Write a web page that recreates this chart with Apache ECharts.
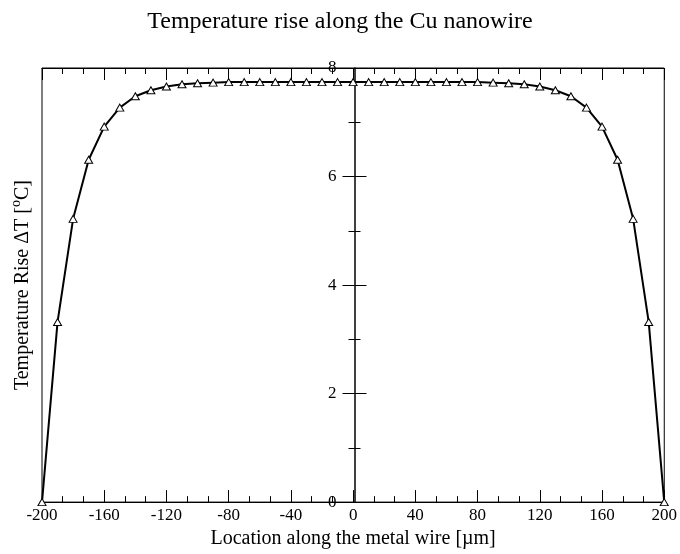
<!DOCTYPE html>
<html>
<head>
<meta charset="utf-8">
<script src="https://cdn.jsdelivr.net/npm/echarts@6/dist/echarts.min.js"></script>
<style>html,body{margin:0;padding:0;background:#fff;}#c{width:680px;height:554px;}</style>
</head>
<body>
<div id="c"></div>
<script>
const titleText = 'Temperature rise along the Cu nanowire';
const xName = 'Location along the metal wire [\u00b5m]';
const positions = [-200,-190,-180,-170,-160,-150,-140,-130,-120,-110,-100,-90,-80,-70,-60,-50,-40,-30,-20,-10,0,
  10,20,30,40,50,60,70,80,90,100,110,120,130,140,150,160,170,180,190,200];
const tempRise = [0,3.32,5.22,6.31,6.92,7.27,7.48,7.59,7.66,7.70,7.72,7.73,7.74,7.74,7.74,7.74,7.74,7.74,7.74,7.74,7.74,
  7.74,7.74,7.74,7.74,7.74,7.74,7.74,7.74,7.73,7.72,7.70,7.66,7.59,7.48,7.27,6.92,6.31,5.22,3.32,0];

const FONT = '"Liberation Serif", "DejaVu Serif", serif';
const data = positions.map((x, i) => [x, tempRise[i]]);

const GRID_LEFT = 42, GRID_RIGHT = 13, CHART_W = 680;
const plotW = CHART_W - GRID_LEFT - GRID_RIGHT;
const centerOffset = -plotW / 2; // places a left y axis at x = 0

const chart = echarts.init(document.getElementById('c'), null, {renderer: 'canvas'});
const xBase = {
  type: 'value', min: -200, max: 200, interval: 40,
  axisLine: {onZero: false, lineStyle: {color: '#000', width: 1}},
  axisTick: {inside: true, length: 12, lineStyle: {color: '#000', width: 1}},
  minorTick: {show: true, splitNumber: 3, length: 6, lineStyle: {color: '#000', width: 1}},
  splitLine: {show: false}, minorSplitLine: {show: false}
};
const yBase = {
  type: 'value', min: 0, max: 8, interval: 2,
  splitLine: {show: false}, minorSplitLine: {show: false}
};
chart.setOption({
  animation: false,
  backgroundColor: '#fff',
  title: {
    text: titleText, left: 'center', top: 5,
    textStyle: {fontFamily: FONT, fontSize: 24, fontWeight: 'normal', color: '#000'}
  },
  grid: {left: GRID_LEFT, right: GRID_RIGHT, top: 68, bottom: 48, show: true, borderColor: '#000', borderWidth: 1, backgroundColor: 'transparent'},
  xAxis: [
    Object.assign({}, xBase, {
      position: 'bottom',
      axisLabel: {margin: 5, fontFamily: FONT, fontSize: 17, color: '#000'},
      name: xName, nameLocation: 'middle', nameGap: 22,
      nameTextStyle: {fontFamily: FONT, fontSize: 20, color: '#000'}
    }),
    Object.assign({}, xBase, {position: 'top', axisLabel: {show: false}})
  ],
  yAxis: [
    Object.assign({}, yBase, {
      position: 'left', offset: centerOffset,
      axisLine: {show: true, onZero: false, lineStyle: {color: '#000', width: 1.5}},
      axisTick: {show: true, inside: false, length: 12, lineStyle: {color: '#000', width: 1}},
      minorTick: {show: true, splitNumber: 2, length: 6, lineStyle: {color: '#000', width: 1}},
      axisLabel: {margin: 18, fontFamily: FONT, fontSize: 17, color: '#000'}
    }),
    Object.assign({}, yBase, {
      position: 'left', offset: centerOffset,
      axisLine: {show: false, onZero: false},
      axisTick: {show: true, inside: true, length: 12, lineStyle: {color: '#000', width: 1}},
      minorTick: {show: true, splitNumber: 2, length: 6, lineStyle: {color: '#000', width: 1}},
      axisLabel: {show: false}
    }),
    Object.assign({}, yBase, {
      position: 'left',
      axisLine: {show: false, onZero: false},
      axisTick: {show: false}, minorTick: {show: false}, axisLabel: {show: false},
      name: '{a|Temperature Rise \u0394T [}{s|o}{a|C]}',
      nameLocation: 'middle', nameRotate: 90, nameGap: 9,
      nameTextStyle: {
        rich: {
          a: {fontFamily: FONT, fontSize: 20, color: '#000', lineHeight: 24, verticalAlign: 'bottom'},
          s: {fontFamily: FONT, fontSize: 14, color: '#000', lineHeight: 24, verticalAlign: 'top', padding: [0, 0, 8, 0]}
        }
      }
    })
  ],
  series: [{
    type: 'line', xAxisIndex: 0, yAxisIndex: 0,
    data: data,
    showAllSymbol: true,
    symbol: 'triangle', symbolSize: [8, 7],
    itemStyle: {color: '#fff', borderColor: '#000', borderWidth: 1},
    lineStyle: {color: '#000', width: 2},
    z: 5
  }]
});
</script>
</body>
</html>
